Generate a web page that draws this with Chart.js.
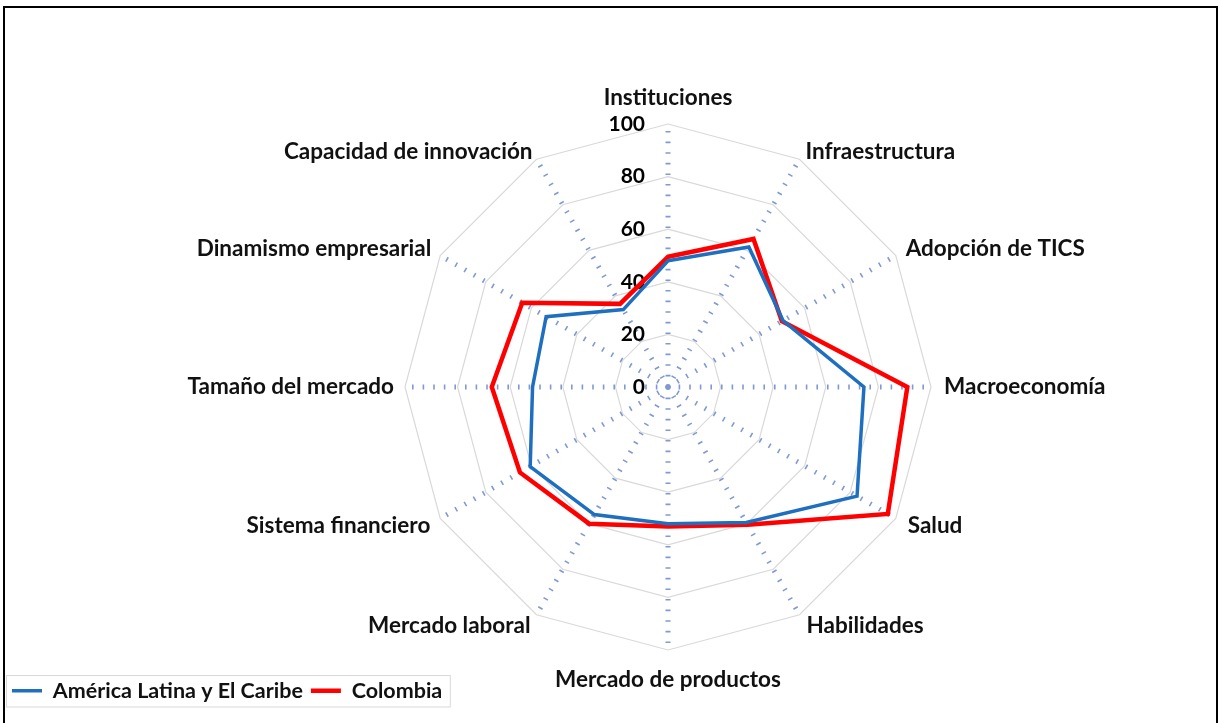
<!DOCTYPE html>
<html>
<head>
<meta charset="utf-8">
<script src="https://cdn.jsdelivr.net/npm/chart.js@4.4.0/dist/chart.umd.min.js"></script>
<style>
  html, body { margin: 0; padding: 0; background: #fff; }
  #wrap { width: 1220px; height: 723px; position: relative; }
</style>
</head>
<body>
<div id="wrap"><canvas id="radarChart"></canvas></div>
<script>
const pilares = ['Instituciones', 'Infraestructura', 'Adopción de TICS', 'Macroeconomía', 'Salud',
    'Habilidades', 'Mercado de productos', 'Mercado laboral', 'Sistema financiero',
    'Tamaño del mercado', 'Dinamismo empresarial', 'Capacidad de innovación'];
const americaLatina = [48, 61.5, 50.5, 74.5, 83, 59.5, 52, 56, 60.5, 51.5, 53.5, 34];
const colombia = [49.5, 65, 50, 91, 96.5, 60.5, 53, 60, 65, 67, 64, 36.5];
const ticks = [0, 20, 40, 60, 80, 100];

const FONT = 'Lato';

// tick labels to the left of the vertical axis, like the Excel chart
const tickLabels = {
    id: 'tickLabels',
    beforeDatasetsDraw(chart) {
        const s = chart.scales.r;
        const ctx = chart.ctx;
        ctx.save();
        ctx.font = 'bold 21px ' + FONT;
        ctx.fillStyle = '#000';
        ctx.textAlign = 'right';
        ctx.textBaseline = 'middle';
        ticks.forEach(v => {
            ctx.fillText(String(v), s.xCenter - 23, s.yCenter - s.getDistanceFromCenterForValue(v));
        });
        ctx.restore();
    }
};

// Excel centres the diagonal labels on the axis end, nudge chart.js ones a bit
const labelNudge = {
    id: 'labelNudge',
    afterLayout(chart) {
        const dy = [-5, 13, 11, 0, -10, -9, 8, -9, -10, 0, 11, 13];
        const dx = [0, 2, 3, 5, 5, 3, 0, -2, -3, -3, -2, 0];
        const items = chart.scales.r._pointLabelItems || [];
        items.forEach((it, i) => {
            it.y += dy[i]; it.top += dy[i]; it.bottom += dy[i];
            it.x += dx[i]; it.left += dx[i]; it.right += dx[i];
        });
        // legend sits in the bottom-left corner, over the plot area
        const lg = chart.legend;
        const h = lg.height;
        lg.left = 4;
        lg.top = 672;
        lg.bottom = lg.top + h;
    }
};

// outer frame + box around legend
const frame = {
    id: 'frame',
    afterDraw(chart) {
        const ctx = chart.ctx;
        ctx.save();
        ctx.strokeStyle = '#000';
        ctx.lineWidth = 2;
        ctx.strokeRect(4, 7, 1213, 730);
        const lg = chart.legend;
        if (lg && lg.legendHitBoxes.length) {
            const hb = lg.legendHitBoxes;
            const last = hb[hb.length - 1];
            ctx.strokeStyle = '#d9d9d9';
            ctx.lineWidth = 1;
            ctx.strokeRect(6.5, hb[0].top - 4.5, last.left + last.width + 8 - 6.5, hb[0].height + 10);
        }
        ctx.restore();
    }
};

const ctxRadar = document.getElementById('radarChart').getContext('2d');
const radarChart = new Chart(ctxRadar, {
    type: 'radar',
    data: {
        labels: pilares,
        datasets: [{
            label: 'América Latina y El Caribe',
            data: americaLatina,
            borderColor: '#1f6fc0',
            backgroundColor: 'transparent',
            borderWidth: 3.5,
            pointRadius: 0,
            fill: false
        }, {
            label: 'Colombia',
            data: colombia,
            borderColor: '#ff0000',
            backgroundColor: 'transparent',
            borderWidth: 4.5,
            pointRadius: 0,
            fill: false
        }]
    },
    options: {
        responsive: true,
        maintainAspectRatio: false,
        animation: false,
        layout: { padding: { top: 89, left: 116, right: 0, bottom: -3 } },
        elements: { line: { tension: 0 } },
        scales: {
            r: {
                min: 0,
                max: 100,
                ticks: { stepSize: 20, display: false },
                grid: { color: '#d9d9d9', lineWidth: 1.2 },
                angleLines: { color: '#7f9ad3', lineWidth: 5, borderDash: [1.6, 9] },
                pointLabels: {
                    color: '#111',
                    padding: 8,
                    font: { family: FONT, size: 22.5, weight: 'bold' }
                }
            }
        },
        plugins: {
            legend: {
                position: 'bottom',
                align: 'start',
                labels: {
                    usePointStyle: true,
                    pointStyle: 'line',
                    pointStyleWidth: 30,
                    color: '#111',
                    padding: 8,
                    font: { family: FONT, size: 21.5, weight: 'bold' }
                }
            },
            tooltip: { enabled: false }
        }
    },
    plugins: [labelNudge, tickLabels, frame]
});
</script>
</body>
</html>
